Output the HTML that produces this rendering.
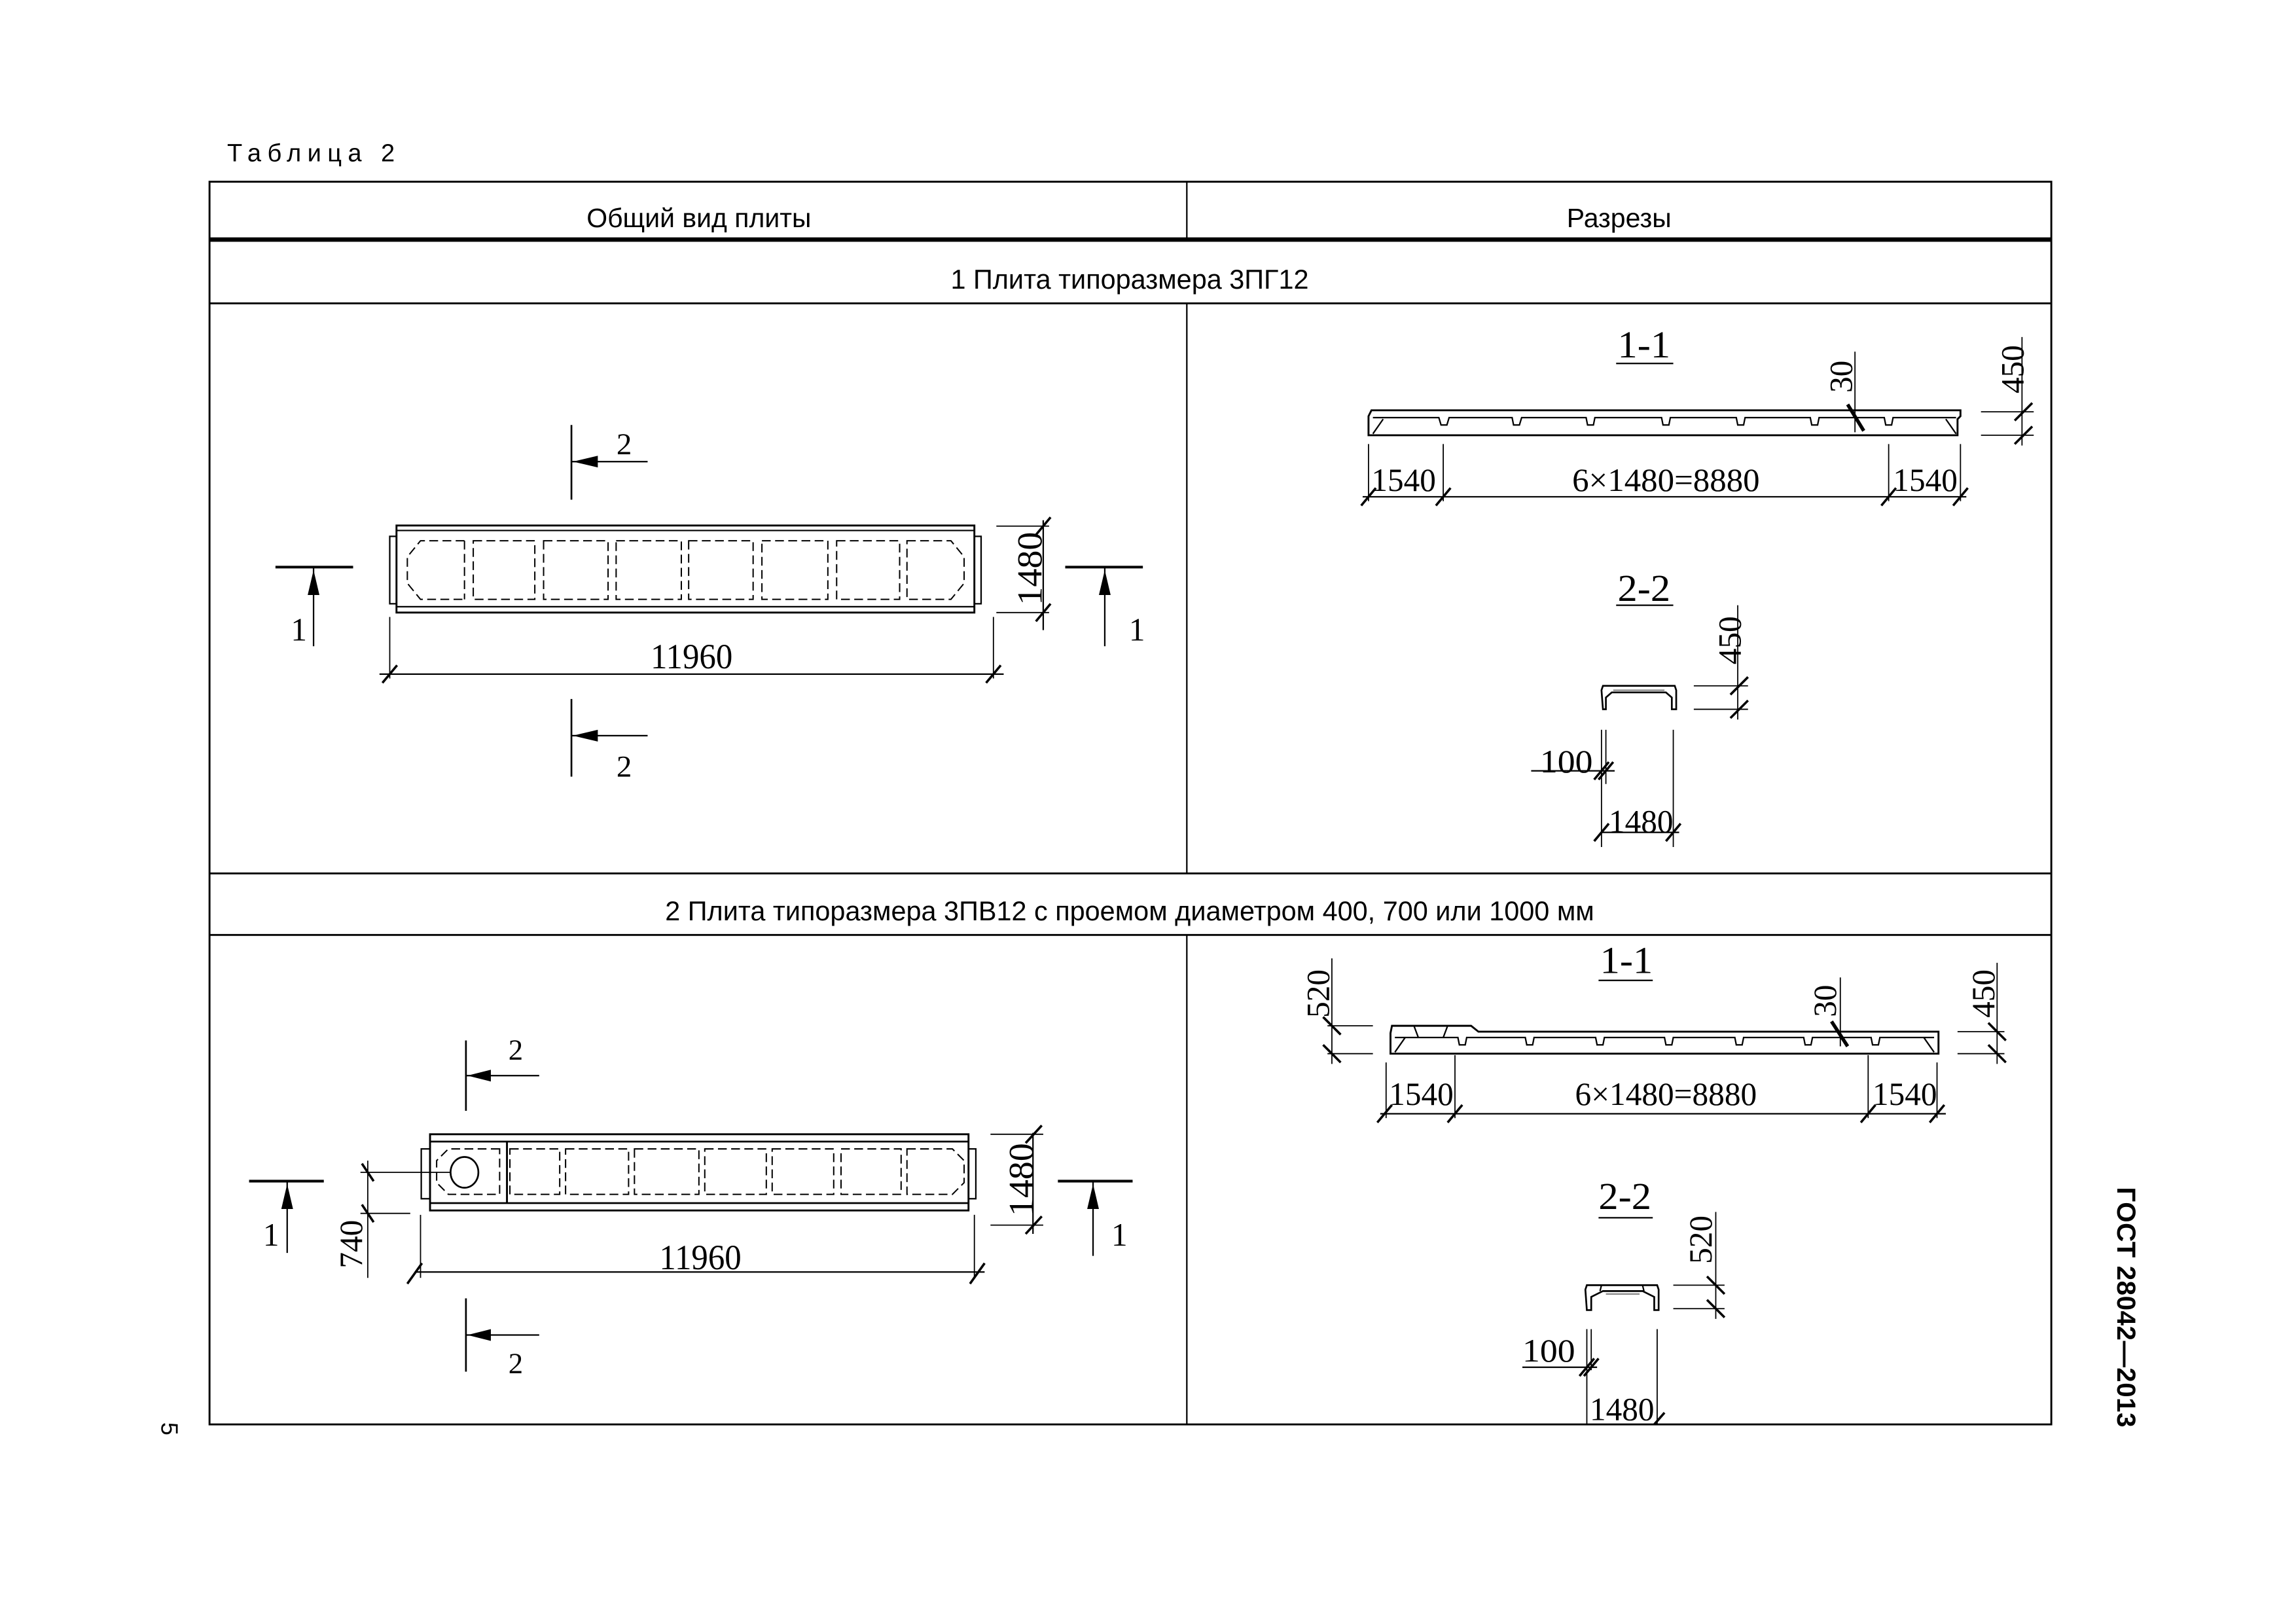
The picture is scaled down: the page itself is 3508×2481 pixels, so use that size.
<!DOCTYPE html>
<html><head><meta charset="utf-8"><style>
html,body{margin:0;padding:0;background:#fff;}
svg{display:block;}
</style></head><body>
<svg width="3508" height="2481" viewBox="0 0 1567 1108.2" preserveAspectRatio="none" xmlns="http://www.w3.org/2000/svg">
<rect x="0" y="0" width="1567" height="1109" fill="#fff"/>
<g font-family="Liberation Sans, sans-serif" fill="#000">
<text x="155" y="110" font-size="17" letter-spacing="4.2">Таблица 2</text>
<text x="477" y="155" font-size="18.3" text-anchor="middle">Общий вид плиты</text>
<text x="1105" y="155" font-size="18.3" text-anchor="middle">Разрезы</text>
<text x="771" y="197" font-size="18.5" text-anchor="middle">1 Плита типоразмера 3ПГ12</text>
<text x="771" y="628" font-size="18.5" text-anchor="middle">2 Плита типоразмера 3ПВ12 с проемом диаметром 400, 700 или 1000 мм</text>
<text transform="translate(1445,892) rotate(90)" font-size="18" font-weight="bold" text-anchor="middle" textLength="164">ГОСТ 28042—2013</text>
<text transform="translate(110,975) rotate(90)" font-size="16" text-anchor="middle">5</text>
</g>
<g stroke="#000" fill="none">
<rect x="143" y="124" width="1257" height="848" stroke-width="1.3"/>
<line x1="143" y1="163.5" x2="1400" y2="163.5" stroke-width="3"/>
<line x1="143" y1="207" x2="1400" y2="207" stroke-width="1.3"/>
<line x1="143" y1="596" x2="1400" y2="596" stroke-width="1.3"/>
<line x1="143" y1="638" x2="1400" y2="638" stroke-width="1.3"/>
<line x1="810" y1="124" x2="810" y2="163" stroke-width="1"/>
<line x1="810" y1="207" x2="810" y2="596" stroke-width="1"/>
<line x1="810" y1="638" x2="810" y2="972" stroke-width="1"/>
</g>

<!-- ROW 1 LEFT -->
<g stroke="#000" fill="none" stroke-width="1">
<rect x="270.6" y="358.6" width="394.4" height="59.4" stroke-width="1.3"/>
<line x1="270.6" y1="362" x2="665" y2="362"/>
<line x1="270.6" y1="414" x2="665" y2="414"/>
<rect x="266" y="366" width="4.6" height="46"/>
<rect x="665" y="366" width="4.6" height="46"/>
<g stroke-dasharray="6,3" stroke-width="0.9">
<path d="M317,369 L287,369 L278,380 L278,398 L287,409 L317,409"/>
<rect x="323" y="369" width="42" height="40"/>
<rect x="371" y="369" width="44" height="40"/>
<rect x="420.5" y="369" width="44.5" height="40"/>
<rect x="470" y="369" width="44" height="40"/>
<rect x="520" y="369" width="45" height="40"/>
<rect x="571" y="369" width="43" height="40"/>
<path d="M619,369 L649,369 L658,380 L658,398 L649,409 L619,409 Z"/>
<line x1="317" y1="369" x2="317" y2="409"/>
</g>
<line x1="188" y1="387" x2="241" y2="387" stroke-width="1.8"/>
<line x1="214" y1="387" x2="214" y2="441"/>
<line x1="727" y1="387" x2="780" y2="387" stroke-width="1.8"/>
<line x1="754" y1="387" x2="754" y2="441"/>
<line x1="390" y1="290" x2="390" y2="341" stroke-width="1.2"/>
<line x1="390" y1="315" x2="442" y2="315"/>
<line x1="390" y1="477" x2="390" y2="530" stroke-width="1.2"/>
<line x1="390" y1="502" x2="442" y2="502"/>
<line x1="259" y1="460" x2="685" y2="460"/>
<line x1="266" y1="421" x2="266" y2="463" stroke-width="0.8"/>
<line x1="678" y1="421" x2="678" y2="463" stroke-width="0.8"/>
<line x1="712" y1="355" x2="712" y2="430"/>
<line x1="680" y1="359" x2="716" y2="359" stroke-width="0.8"/>
<line x1="680" y1="418" x2="716" y2="418" stroke-width="0.8"/>
</g>
<g fill="#000">
<path d="M214,389 L210,406 L218,406 Z"/>
<path d="M754,389 L750,406 L758,406 Z"/>
<path d="M391,315 L408,311 L408,319 Z"/>
<path d="M391,502 L408,498 L408,506 Z"/>
</g>
<g stroke="#000" stroke-width="1.6">
<line x1="261" y1="466" x2="271" y2="454"/>
<line x1="673" y1="466" x2="683" y2="454"/>
<line x1="707" y1="365" x2="717" y2="353"/>
<line x1="707" y1="424" x2="717" y2="412"/>
</g>
<g font-family="Liberation Serif, serif" fill="#000">
<text x="204" y="437" font-size="22" text-anchor="middle">1</text>
<text x="776" y="437" font-size="22" text-anchor="middle">1</text>
<text x="426" y="310" font-size="21" text-anchor="middle">2</text>
<text x="426" y="530" font-size="21" text-anchor="middle">2</text>
<text x="472" y="456" font-size="24" text-anchor="middle" textLength="56" lengthAdjust="spacingAndGlyphs">11960</text>
<text transform="translate(711,388) rotate(-90)" font-size="24" text-anchor="middle" textLength="50" lengthAdjust="spacingAndGlyphs">1480</text>
</g>

<!-- ROW 1 RIGHT -->
<g font-family="Liberation Serif, serif" fill="#000">
<text x="1122" y="244" font-size="26" text-anchor="middle" textLength="36" lengthAdjust="spacingAndGlyphs">1-1</text>
<text x="958" y="335" font-size="22" text-anchor="middle" textLength="44" lengthAdjust="spacingAndGlyphs">1540</text>
<text x="1137" y="335" font-size="22" text-anchor="middle" textLength="128" lengthAdjust="spacingAndGlyphs">6×1480=8880</text>
<text x="1314" y="335" font-size="22" text-anchor="middle" textLength="44" lengthAdjust="spacingAndGlyphs">1540</text>
<text transform="translate(1264,257) rotate(-90)" font-size="22" text-anchor="middle">30</text>
<text transform="translate(1381,252) rotate(-90)" font-size="22" text-anchor="middle">450</text>
<text x="1122" y="410" font-size="26" text-anchor="middle" textLength="36" lengthAdjust="spacingAndGlyphs">2-2</text>
<text transform="translate(1188,437) rotate(-90)" font-size="22" text-anchor="middle">450</text>
<text x="1069" y="527" font-size="22" text-anchor="middle" textLength="36" lengthAdjust="spacingAndGlyphs">100</text>
<text x="1120" y="568" font-size="22" text-anchor="middle" textLength="44" lengthAdjust="spacingAndGlyphs">1480</text>
</g>
<g stroke="#000" fill="none" stroke-width="1">
<line x1="1103" y1="248" x2="1142" y2="248"/>
<line x1="1103" y1="413" x2="1142" y2="413"/>
<path d="M934,297 L934,284 L936,280 L1338,280 L1338,284 L1336,286 L1336,297 Z" stroke-width="1.3"/>
<path d="M937,285 L982,285 L983.5,290 L987.5,290 L989,285 L1032,285 L1033,290 L1037,290 L1038.5,285 L1082.5,285 L1083.5,290 L1087.5,290 L1088.5,285 L1134,285 L1135,290 L1139,290 L1140,285 L1185,285 L1186,290 L1190,290 L1191,285 L1235.5,285 L1236.5,290 L1240.5,290 L1241.5,285 L1286,285 L1287,290 L1291,290 L1292,285 L1335,285"/>
<line x1="937" y1="296" x2="944" y2="286"/>
<line x1="1335" y1="296" x2="1328" y2="286"/>
<line x1="930" y1="339" x2="1342" y2="339"/>
<line x1="934" y1="303" x2="934" y2="342" stroke-width="0.8"/>
<line x1="985" y1="303" x2="985" y2="342" stroke-width="0.8"/>
<line x1="1289" y1="303" x2="1289" y2="342" stroke-width="0.8"/>
<line x1="1338" y1="303" x2="1338" y2="342" stroke-width="0.8"/>
<line x1="1266" y1="240" x2="1266" y2="295" stroke-width="0.8"/>
<line x1="1380" y1="230" x2="1380" y2="304" stroke-width="0.8"/>
<line x1="1352" y1="281" x2="1388" y2="281" stroke-width="0.8"/>
<line x1="1352" y1="297" x2="1388" y2="297" stroke-width="0.8"/>
<path d="M1094,484 L1093,471 L1094,468 L1143,468 L1144,471 L1144,484 L1141,484 L1141,476 L1137,472.5 L1100,472.5 L1096,476 L1096,484 Z" stroke-width="1.2"/>
<line x1="1101" y1="471" x2="1136" y2="471" stroke="#888"/>
<line x1="1156" y1="468" x2="1193" y2="468" stroke-width="0.8"/>
<line x1="1156" y1="484" x2="1193" y2="484" stroke-width="0.8"/>
<line x1="1186" y1="413" x2="1186" y2="491" stroke-width="0.8"/>
<line x1="1093" y1="498" x2="1093" y2="578" stroke-width="0.8"/>
<line x1="1096" y1="498" x2="1096" y2="535" stroke-width="0.8"/>
<line x1="1142" y1="498" x2="1142" y2="578" stroke-width="0.8"/>
<line x1="1045" y1="526" x2="1102" y2="526"/>
<line x1="1093" y1="568" x2="1146" y2="568"/>
</g>
<g stroke="#000" stroke-width="1.6">
<line x1="929" y1="345" x2="939" y2="333"/>
<line x1="980" y1="345" x2="990" y2="333"/>
<line x1="1284" y1="345" x2="1294" y2="333"/>
<line x1="1333" y1="345" x2="1343" y2="333"/>
<line x1="1261" y1="276" x2="1272" y2="294" stroke-width="2.4"/>
<line x1="1375" y1="287" x2="1387" y2="275"/>
<line x1="1375" y1="303" x2="1387" y2="291"/>
<line x1="1181" y1="474" x2="1193" y2="462"/>
<line x1="1181" y1="490" x2="1193" y2="478"/>
<line x1="1088" y1="532" x2="1098" y2="520"/>
<line x1="1091" y1="532" x2="1101" y2="520"/>
<line x1="1088" y1="574" x2="1098" y2="562"/>
<line x1="1137" y1="574" x2="1147" y2="562"/>
</g>

<!-- ROW 2 LEFT -->
<g stroke="#000" fill="none" stroke-width="1">
<rect x="293.5" y="774" width="367.5" height="52" stroke-width="1.3"/>
<line x1="293.5" y1="779" x2="661" y2="779" stroke-width="1.2"/>
<line x1="293.5" y1="821" x2="661" y2="821" stroke-width="1.2"/>
<rect x="287.5" y="784" width="6" height="34"/>
<rect x="661" y="784" width="5" height="34"/>
<line x1="346" y1="779" x2="346" y2="821" stroke-width="1.3"/>
<ellipse cx="317" cy="800" rx="9.5" ry="10.5" stroke-width="1.2"/>
<g stroke-dasharray="6,3" stroke-width="0.9">
<path d="M341,784 L306,784 L298,792 L298,807 L306,815 L341,815 Z"/>
<rect x="348" y="784" width="34" height="31"/>
<rect x="386" y="784" width="43" height="31"/>
<rect x="433" y="784" width="44" height="31"/>
<rect x="481" y="784" width="42" height="31"/>
<rect x="527" y="784" width="42" height="31"/>
<rect x="574" y="784" width="41" height="31"/>
<path d="M619,784 L650,784 L658,792 L658,807 L650,815 L619,815 Z"/>
</g>
<line x1="170" y1="806" x2="221" y2="806" stroke-width="1.8"/>
<line x1="196" y1="806" x2="196" y2="855"/>
<line x1="722" y1="806" x2="773" y2="806" stroke-width="1.8"/>
<line x1="746" y1="806" x2="746" y2="857"/>
<line x1="318" y1="710" x2="318" y2="758" stroke-width="1.2"/>
<line x1="318" y1="734" x2="368" y2="734"/>
<line x1="318" y1="886" x2="318" y2="936" stroke-width="1.2"/>
<line x1="318" y1="911" x2="368" y2="911"/>
<line x1="246" y1="800" x2="308" y2="800" stroke-width="0.8"/>
<line x1="246" y1="828" x2="280" y2="828" stroke-width="0.8"/>
<line x1="251" y1="792" x2="251" y2="872" stroke-width="0.8"/>
<line x1="283" y1="868" x2="672" y2="868"/>
<line x1="287" y1="829" x2="287" y2="872" stroke-width="0.8"/>
<line x1="665" y1="829" x2="665" y2="872" stroke-width="0.8"/>
<line x1="705" y1="773" x2="705" y2="842"/>
<line x1="676" y1="774" x2="712" y2="774" stroke-width="0.8"/>
<line x1="676" y1="836" x2="712" y2="836" stroke-width="0.8"/>
</g>
<g fill="#000">
<path d="M196,808 L192,825 L200,825 Z"/>
<path d="M746,808 L742,825 L750,825 Z"/>
<path d="M319,734 L335,730 L335,738 Z"/>
<path d="M319,911 L335,907 L335,915 Z"/>
</g>
<g stroke="#000" stroke-width="1.6">
<line x1="247" y1="794" x2="255" y2="806"/>
<line x1="247" y1="822" x2="255" y2="834"/>
<line x1="278" y1="876" x2="288" y2="862"/>
<line x1="662" y1="876" x2="672" y2="862"/>
<line x1="700" y1="780" x2="711" y2="768"/>
<line x1="700" y1="842" x2="711" y2="830"/>
</g>
<g font-family="Liberation Serif, serif" fill="#000">
<text x="185" y="850" font-size="22" text-anchor="middle">1</text>
<text x="764" y="850" font-size="22" text-anchor="middle">1</text>
<text x="352" y="723" font-size="20" text-anchor="middle">2</text>
<text x="352" y="937" font-size="20" text-anchor="middle">2</text>
<text x="478" y="866" font-size="24" text-anchor="middle" textLength="56" lengthAdjust="spacingAndGlyphs">11960</text>
<text transform="translate(247,849) rotate(-90)" font-size="22" text-anchor="middle">740</text>
<text transform="translate(705,805) rotate(-90)" font-size="24" text-anchor="middle" textLength="50" lengthAdjust="spacingAndGlyphs">1480</text>
</g>

<!-- ROW 2 RIGHT -->
<g font-family="Liberation Serif, serif" fill="#000">
<text x="1110" y="664" font-size="26" text-anchor="middle" textLength="36" lengthAdjust="spacingAndGlyphs">1-1</text>
<text transform="translate(907,678) rotate(-90)" font-size="22" text-anchor="middle">520</text>
<text transform="translate(1253,683) rotate(-90)" font-size="22" text-anchor="middle">30</text>
<text transform="translate(1361,678) rotate(-90)" font-size="22" text-anchor="middle">450</text>
<text x="970" y="754" font-size="22" text-anchor="middle" textLength="44" lengthAdjust="spacingAndGlyphs">1540</text>
<text x="1137" y="754" font-size="22" text-anchor="middle" textLength="124" lengthAdjust="spacingAndGlyphs">6×1480=8880</text>
<text x="1300" y="754" font-size="22" text-anchor="middle" textLength="44" lengthAdjust="spacingAndGlyphs">1540</text>
<text x="1109" y="825" font-size="26" text-anchor="middle" textLength="36" lengthAdjust="spacingAndGlyphs">2-2</text>
<text transform="translate(1168,846) rotate(-90)" font-size="22" text-anchor="middle">520</text>
<text x="1057" y="929" font-size="22" text-anchor="middle" textLength="36" lengthAdjust="spacingAndGlyphs">100</text>
<text x="1107" y="969" font-size="22" text-anchor="middle" textLength="44" lengthAdjust="spacingAndGlyphs">1480</text>
</g>
<g stroke="#000" fill="none" stroke-width="1">
<line x1="1091" y1="669" x2="1128" y2="669"/>
<line x1="1091" y1="831" x2="1128" y2="831"/>
<path d="M949,719 L949,705 L950,700 L1004,700 L1009,704 L1323,704 L1323,719 Z" stroke-width="1.3"/>
<path d="M952,708 L995,708 L996,713 L1000,713 L1001,708 L1041,708 L1042,713 L1046,713 L1047,708 L1089,708 L1090,713 L1094,713 L1095,708 L1136,708 L1137,713 L1141,713 L1142,708 L1184,708 L1185,713 L1189,713 L1190,708 L1231,708 L1232,713 L1236,713 L1237,708 L1277,708 L1278,713 L1282,713 L1283,708 L1320,708"/>
<line x1="952" y1="718" x2="959" y2="708"/>
<line x1="1320" y1="718" x2="1313" y2="708"/>
<line x1="965" y1="700" x2="968" y2="708"/>
<line x1="988" y1="700" x2="985" y2="708"/>
<line x1="942" y1="760" x2="1328" y2="760"/>
<line x1="946" y1="725" x2="946" y2="763" stroke-width="0.8"/>
<line x1="993" y1="720" x2="993" y2="763" stroke-width="0.8"/>
<line x1="1275" y1="720" x2="1275" y2="763" stroke-width="0.8"/>
<line x1="1322" y1="725" x2="1322" y2="763" stroke-width="0.8"/>
<line x1="906" y1="700" x2="937" y2="700" stroke-width="0.8"/>
<line x1="906" y1="719" x2="937" y2="719" stroke-width="0.8"/>
<line x1="909" y1="654" x2="909" y2="726" stroke-width="0.8"/>
<line x1="1256" y1="667" x2="1256" y2="714" stroke-width="0.8"/>
<line x1="1336" y1="704" x2="1368" y2="704" stroke-width="0.8"/>
<line x1="1336" y1="719" x2="1368" y2="719" stroke-width="0.8"/>
<line x1="1363" y1="657" x2="1363" y2="726" stroke-width="0.8"/>
<path d="M1083,894 L1082,880 L1083,877 L1131,877 L1132,880 L1132,894 L1129,894 L1129,885 L1121,881 L1094,881 L1086,885 L1086,894 Z" stroke-width="1.2"/>
<line x1="1093" y1="877" x2="1092" y2="881"/>
<line x1="1121" y1="877" x2="1122" y2="881"/>
<line x1="1096" y1="883" x2="1119" y2="883" stroke="#888"/>
<line x1="1142" y1="877" x2="1177" y2="877" stroke-width="0.8"/>
<line x1="1142" y1="893" x2="1177" y2="893" stroke-width="0.8"/>
<line x1="1171" y1="827" x2="1171" y2="900" stroke-width="0.8"/>
<line x1="1083" y1="907" x2="1083" y2="972" stroke-width="0.8"/>
<line x1="1086" y1="907" x2="1086" y2="935" stroke-width="0.8"/>
<line x1="1131" y1="907" x2="1131" y2="972" stroke-width="0.8"/>
<line x1="1039" y1="933" x2="1090" y2="933"/>
</g>
<g stroke="#000" stroke-width="1.6">
<line x1="940" y1="766" x2="950" y2="754"/>
<line x1="988" y1="766" x2="998" y2="754"/>
<line x1="1270" y1="766" x2="1280" y2="754"/>
<line x1="1317" y1="766" x2="1327" y2="754"/>
<line x1="903" y1="694" x2="915" y2="706"/>
<line x1="903" y1="713" x2="915" y2="725"/>
<line x1="1250" y1="697" x2="1261" y2="714" stroke-width="2.4"/>
<line x1="1357" y1="698" x2="1369" y2="710"/>
<line x1="1357" y1="713" x2="1369" y2="725"/>
<line x1="1165" y1="871" x2="1177" y2="883"/>
<line x1="1165" y1="887" x2="1177" y2="899"/>
<line x1="1078" y1="939" x2="1088" y2="927"/>
<line x1="1081" y1="939" x2="1091" y2="927"/>
<line x1="1129" y1="972" x2="1136" y2="964"/>
</g>
</svg>
</body></html>
